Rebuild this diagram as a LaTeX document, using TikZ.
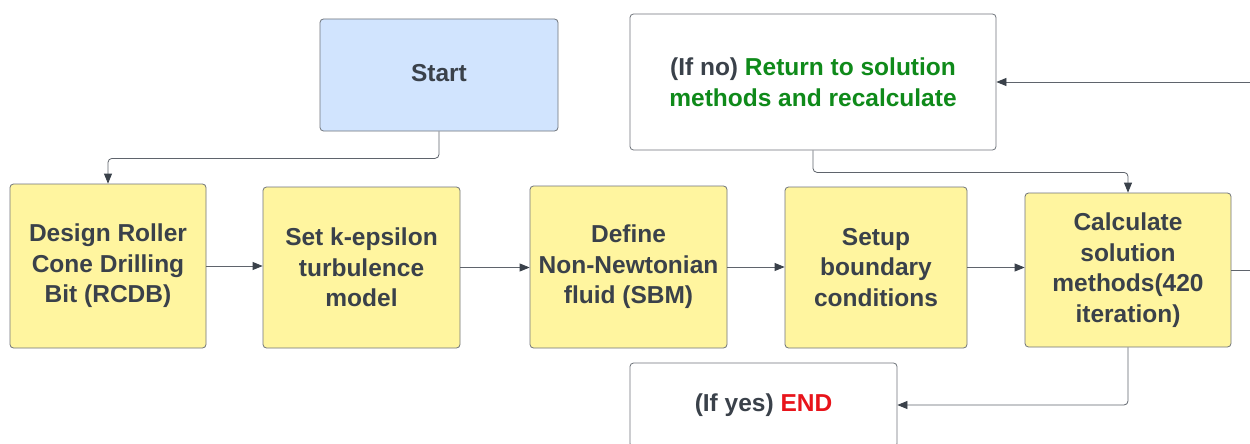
\documentclass[tikz,border=0pt]{standalone}
\usepackage{fontspec}
\setmainfont{Liberation Sans}
\usepackage{tikz}
\usetikzlibrary{arrows.meta, positioning}

\definecolor{inkgray}{HTML}{3A414A}
\definecolor{edgegray}{HTML}{6F747B}
\definecolor{wiregray}{HTML}{5F646C}
\definecolor{startblue}{HTML}{D1E4FE}
\definecolor{stepyellow}{HTML}{FFF59F}
\definecolor{okgreen}{HTML}{0F8A1A}
\definecolor{stopred}{HTML}{E8141B}

\begin{document}
\begin{tikzpicture}[x=1pt, y=-1pt,
    box/.style={draw=edgegray, line width=0.8pt, rounded corners=3.5pt, align=center,
        text=inkgray, inner sep=0pt, font=\bfseries\fontsize{24.5}{30.5}\selectfont},
    stepbox/.style={box, fill=stepyellow},
    flow/.style={draw=wiregray, line width=0.8pt, rounded corners=4pt,
        -{Triangle[length=10pt, width=8pt, color=inkgray]}}]
    \path[fill=white, use as bounding box] (0,0) rectangle (1250,444);

    % top row
    \node[box, fill=startblue, minimum width=238pt, minimum height=112pt] (start) at (439,75)
        {\raisebox{4pt}{Start}};
    \node[box, fill=white, minimum width=366pt, minimum height=136pt] (ret) at (813,82)
        {(If no) \textcolor{okgreen}{Return to solution}\\\textcolor{okgreen}{methods and recalculate}};

    % process steps
    \node[stepbox, minimum width=196pt, minimum height=164pt] (design) at (108,266)
        {Design Roller\\Cone Drilling\\Bit (RCDB)};
    \node[stepbox, minimum width=197pt, minimum height=161pt] (kmodel) at (361.5,267.5)
        {Set k-epsilon\\turbulence\\model};
    \node[stepbox, minimum width=197pt, minimum height=162pt] (fluid) at (628.5,267)
        {Define\\Non-Newtonian\\fluid (SBM)};
    \node[stepbox, minimum width=182pt, minimum height=161pt] (bound) at (876,267.5)
        {Setup\\boundary\\conditions};
    \node[stepbox, minimum width=206pt, minimum height=154pt] (calc) at (1128,270)
        {Calculate\\solution\\methods(420\\iteration)};

    % end box, open at the bottom edge
    \node[box, fill=white, minimum width=267pt, minimum height=84pt] (stop) at (763.5,405)
        {(If yes) \textcolor{stopred}{END}};

    \coordinate (rin) at (1250,82);
    \coordinate (rout) at (1250,270);

    % connectors
    \draw[flow] (start.south) -- ++(0,27) -| (design.north);
    \draw[flow] (design.east) -- (design.east -| kmodel.west);
    \draw[flow] (kmodel.east) -- (kmodel.east -| fluid.west);
    \draw[flow] (fluid.east) -- (fluid.east -| bound.west);
    \draw[flow] (bound.east) -- (bound.east -| calc.west);
    \draw[flow, -] (calc.east) -- (rout);
    \draw[flow] (rin) -- (ret.east);
    \draw[flow] (ret.south) -- ++(0,22) -| (calc.north);
    \draw[flow] (calc.south) |- (stop.east);
\end{tikzpicture}
\end{document}
